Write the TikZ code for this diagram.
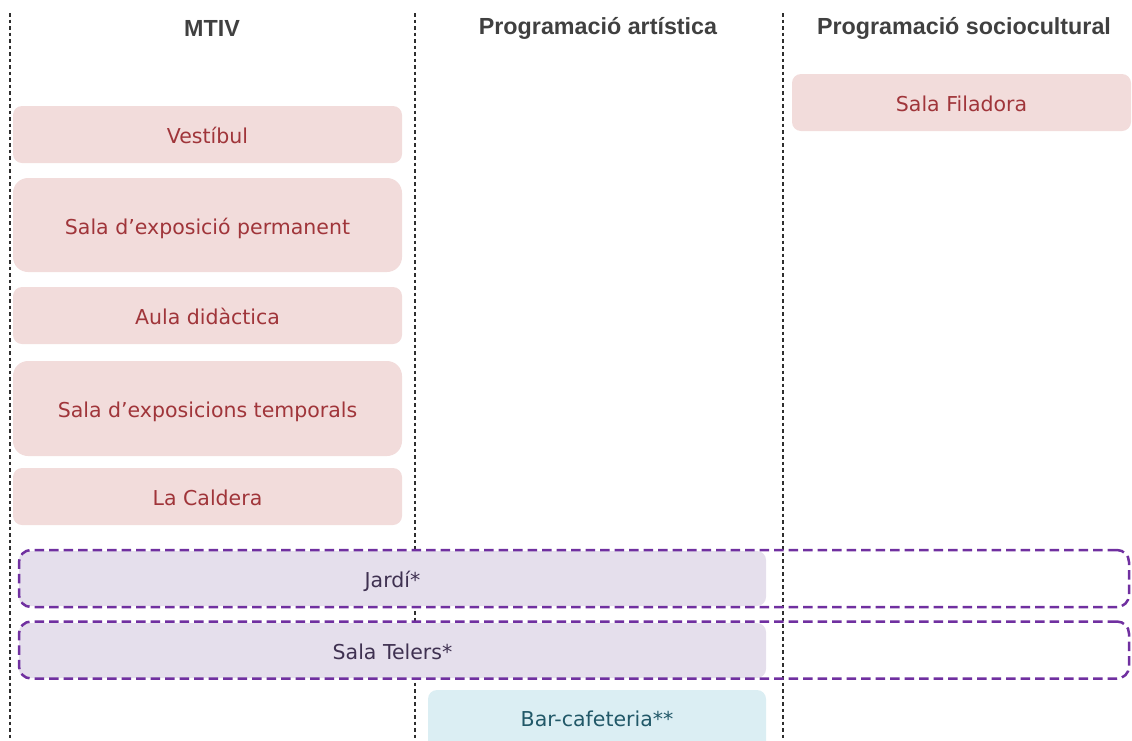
\documentclass[tikz,border=0pt]{standalone}
\usepackage{fontspec}
\setmainfont{DejaVu Sans}
\newfontfamily\hdrfont{Liberation Sans}
\definecolor{pinkfill}{HTML}{F2DCDB}
\definecolor{pinktext}{HTML}{A0353A}
\definecolor{lavfill}{HTML}{E5DFEC}
\definecolor{lavtext}{HTML}{3F3151}
\definecolor{purpleline}{HTML}{7030A0}
\definecolor{bluefill}{HTML}{DBEEF3}
\definecolor{bluetext}{HTML}{215868}
\definecolor{hdrgray}{HTML}{404040}
\definecolor{sepgray}{HTML}{2E2E2E}
\begin{document}
\begin{tikzpicture}[x=1pt,y=-1pt,
  hdr/.style={font=\hdrfont\bfseries\fontsize{23.3}{26}\selectfont, text=hdrgray, inner sep=0pt},
  box/.style={rectangle, rounded corners=9pt, inner sep=0pt, text height=18pt, text depth=0pt, font=\fontsize{20.5}{24}\selectfont},
  bigbox/.style={box, rounded corners=15pt},
  pinkbox/.style={fill=pinkfill, text=pinktext},
  lavbox/.style={box, fill=lavfill, text=lavtext},
  bluebox/.style={box, fill=bluefill, text=bluetext},
  dashout/.style={rectangle, rounded corners=12pt, draw=purpleline, line width=2.5pt, dash pattern=on 9.5pt off 5pt, inner sep=0pt},
  sepline/.style={draw=sepgray, line width=2pt, dash pattern=on 3.5pt off 3pt}]
\useasboundingbox (0,0) rectangle (1132,740);
% separators
\coordinate (s1t) at (10,13); \coordinate (s1b) at (10,740);
\coordinate (s2t) at (415,13); \coordinate (s2b) at (415,740);
\coordinate (s3t) at (783,13); \coordinate (s3b) at (783,740);
\draw[sepline] (s1t) -- (s1b);
\draw[sepline] (s2t) -- (s2b);
\draw[sepline] (s3t) -- (s3b);
% headers
\node[hdr] (h1) at (212,28) {MTIV};
\node[hdr] (h2) at (598,28) {Programació artística};
\node[hdr] (h3) at (964,28) {Programació sociocultural};
% MTIV column
\node[box,pinkbox, minimum width=389pt, minimum height=57pt] (vest) at (207.5,134.5) {Vestíbul};
\node[bigbox,pinkbox, minimum width=389pt, minimum height=94pt] (perm) at (207.5,225) {Sala d’exposició permanent};
\node[box,pinkbox, minimum width=389pt, minimum height=57pt] (aula) at (207.5,315.5) {Aula didàctica};
\node[bigbox,pinkbox, minimum width=389pt, minimum height=95pt] (temp) at (207.5,408.5) {Sala d’exposicions temporals};
\node[box,pinkbox, minimum width=389pt, minimum height=57pt] (cald) at (207.5,496.5) {La Caldera};
% sociocultural
\node[box,pinkbox, minimum width=339pt, minimum height=57pt] (fila) at (961.5,102.5) {Sala Filadora};
% shared spaces
\node[lavbox, minimum width=747pt, minimum height=55pt] (jardi) at (392.5,578.5) {Jardí*};
\node[dashout, minimum width=1110pt, minimum height=57pt] (jardiOut) at (574,578.5) {};
\node[lavbox, minimum width=747pt, minimum height=55pt] (telers) at (392.5,650.5) {Sala Telers*};
\node[dashout, minimum width=1110pt, minimum height=57pt] (telersOut) at (574,650) {};
% bar
\node[bluebox, text height=12.6pt, minimum width=338pt, minimum height=60pt] (bar) at (597,720) {Bar-cafeteria**};
\end{tikzpicture}
\end{document}
